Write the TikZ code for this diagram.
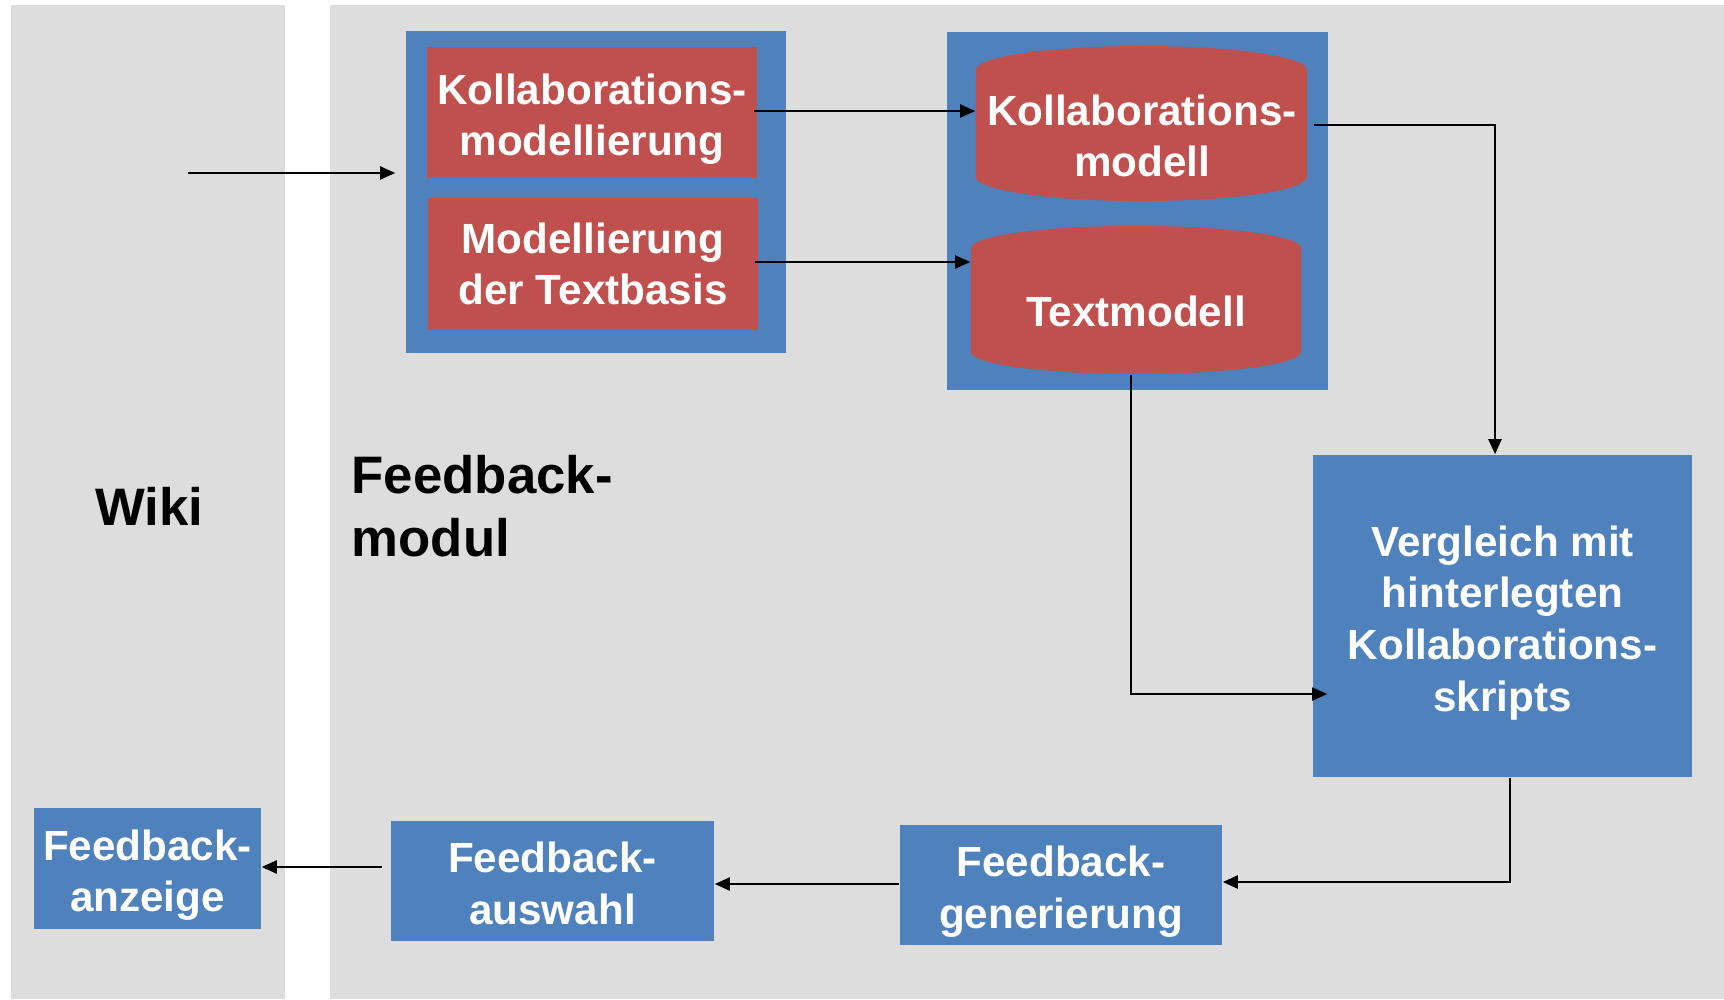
\documentclass[tikz,border=0pt]{standalone}
\usepackage{fontspec}
\setmainfont{Liberation Sans}
\usetikzlibrary{arrows.meta}
\definecolor{panelgray}{RGB}{221,221,221}
\definecolor{boxblue}{RGB}{79,129,189}
\definecolor{boxred}{RGB}{192,80,77}
\newcommand{\myboxfont}{\fontsize{12}{14.7}\selectfont\bfseries}
\newcommand{\mylabelfont}{\fontsize{15}{17.8}\selectfont\bfseries}
\newcommand{\tpd}{\rule{0pt}{12.5pt}}
\newcommand{\tps}{\rule{0pt}{9.9pt}}
\begin{document}
\begin{tikzpicture}[x=0.01cm,y=-0.01cm,
  panel/.style={fill=panelgray},
  bluebox/.style={fill=boxblue, inner sep=0pt, text=white, align=center, font=\myboxfont},
  redbox/.style={fill=boxred, inner sep=0pt, text=white, align=center, font=\myboxfont},
  cylfill/.style={fill=boxred},
  cylnode/.style={inner sep=0pt},
  cyltext/.style={inner sep=0pt, text=white, align=center, font=\myboxfont},
  biglabel/.style={inner sep=0pt, text=black, font=\mylabelfont},
  arr/.style={draw=black, line width=0.6pt, -{Triangle[length=0.15cm,width=0.13cm]}}
]
\useasboundingbox (0,0) rectangle (1724,999);
\fill[white] (0,0) rectangle (1724,999);
% panels
\fill[panel] (11,5) rectangle (285,999);
\fill[panel] (330,5) rectangle (1724,999);

% modelling group
\node[bluebox, minimum width=3.8cm, minimum height=3.22cm] (mod) at (596,192) {};
\node[redbox, minimum width=3.3cm, minimum height=1.31cm] (km) at (592,112.5) {\tpd Kollaborations-\\modellierung};
\node[redbox, minimum width=3.3cm, minimum height=1.32cm] (mt) at (593,264) {Modellierung\\der Textbasis};

% store group
\node[bluebox, minimum width=3.81cm, minimum height=3.58cm] (store) at (1137.5,211) {};
\fill[cylfill] (976,70) arc[start angle=180, end angle=0, x radius=1.655cm, y radius=0.24cm]
  -- (1307,177) arc[start angle=0, end angle=-180, x radius=1.655cm, y radius=0.24cm] -- cycle;
\fill[cylfill] (971,248) arc[start angle=180, end angle=0, x radius=1.65cm, y radius=0.22cm]
  -- (1301,352) arc[start angle=0, end angle=-180, x radius=1.65cm, y radius=0.22cm] -- cycle;
\node[cylnode, minimum width=3.31cm, minimum height=1.55cm] (kmod) at (1141.5,123.5) {};
\node[cylnode, minimum width=3.3cm, minimum height=1.48cm] (tmod) at (1136,300) {};
\node[cyltext] (kmodtext) at (1142,136) {Kollaborations-\\modell};
\node[cyltext] (tmodtext) at (1136,311) {Textmodell};

% process boxes
\node[bluebox, minimum width=3.79cm, minimum height=3.22cm] (vgl) at (1502.5,616) {\tpd Vergleich mit\\hinterlegten\\Kollaborations-\\skripts};
\node[bluebox, minimum width=3.22cm, minimum height=1.2cm] (gen) at (1061,885) {\tpd Feedback-\\generierung};
\node[bluebox, minimum width=3.23cm, minimum height=1.2cm] (ausw) at (552.5,881) {\tps Feedback-\\auswahl};
\node[bluebox, minimum width=2.27cm, minimum height=1.21cm] (anz) at (147.5,868.5) {\tpd Feedback-\\anzeige};

% labels
\node[biglabel] (wiki) at (149,506) {Wiki};
\node[biglabel, anchor=west, align=left] (fbm) at (351,506) {Feedback-\\modul};

% connectors
\coordinate (wikiin) at (188,173);
\draw[arr, shorten >=0.1cm] (wikiin) -- (wikiin -| mod.west);
\draw[arr] ([xshift=-0.04cm,yshift=0.015cm]km.east) -- ([yshift=0.015cm]km.east -| kmod.west);
\draw[arr] ([xshift=-0.04cm,yshift=0.02cm]mt.east) -- ([yshift=0.02cm]mt.east -| tmod.west);
\draw[arr] ([xshift=0.06cm,yshift=-0.015cm]kmod.east) -| ([xshift=-0.075cm]vgl.north);
\draw[arr] ([xshift=-0.05cm]tmod.south) |- ([yshift=-0.78cm,xshift=0.15cm]vgl.west);
\draw[arr] ([xshift=0.075cm]vgl.south) |- ([yshift=0.03cm]gen.east);
\draw[arr] ([yshift=0.01cm]gen.west) -- ([yshift=0.01cm]gen.west -| ausw.east);
\coordinate (auswout) at (382,867);
\draw[arr] (auswout) -- (auswout -| anz.east);
\end{tikzpicture}
\end{document}
